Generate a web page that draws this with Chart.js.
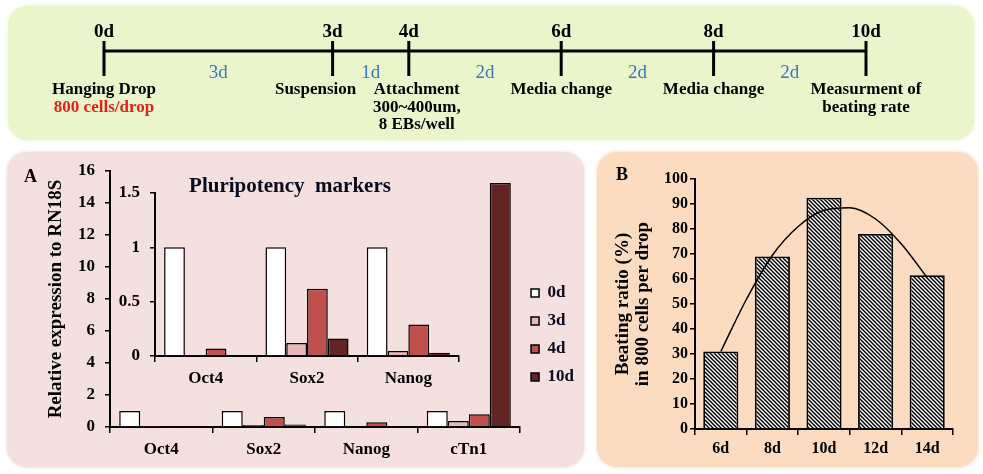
<!DOCTYPE html>
<html>
<head>
<meta charset="utf-8">
<script src="https://cdn.jsdelivr.net/npm/chart.js@4.4.0/dist/chart.umd.min.js"></script>
<style>
  html, body { margin: 0; padding: 0; background: #fff; }
  body { width: 983px; height: 474px; position: relative; overflow: hidden; font-family: "Liberation Serif", "Times New Roman", serif; }
  .box { position: absolute; border-radius: 20px; }
  #boxTop { left: 8px; top: 6px; width: 966px; height: 134px; background: #eaf5cb; box-shadow: 0 0 3px 1px #eef7d8; }
  #boxA { left: 7px; top: 152px; width: 577px; height: 315px; background: #f3e0df; box-shadow: 0 0 3px 1px #f5e7e6; }
  #boxB { left: 597px; top: 152px; width: 381px; height: 315px; background: #fbdcc1; box-shadow: 0 0 3px 1px #fce6d3; }
  canvas { position: absolute; }
  .tag { position: absolute; font-weight: bold; font-size: 18px; line-height: 18px; }
</style>
</head>
<body>
<div class="box" id="boxTop"></div>
<div class="box" id="boxA"></div>
<div class="box" id="boxB"></div>
<canvas id="timeline" width="983" height="145" style="left:0;top:0"></canvas>
<canvas id="exprChart" width="590" height="329" style="left:0;top:145px"></canvas>
<canvas id="insetChart" width="390" height="240" style="left:100px;top:160px"></canvas>
<canvas id="beatChart" width="393" height="329" style="left:590px;top:145px"></canvas>
<div class="tag" style="left:24px;top:167px">A</div>
<div class="tag" style="left:616px;top:165px">B</div>
<script>
// timeline
const timelineDays = [0, 3, 4, 6, 8, 10];
const timelineLabels = ['0d', '3d', '4d', '6d', '8d', '10d'];
const intervalLabels = ['3d', '1d', '2d', '2d', '2d'];
const eventLines = [
  ['Hanging Drop', '800 cells/drop'],
  ['Suspension'],
  ['Attachment', '300~400um,', '8 EBs/well'],
  ['Media change'],
  ['Media change'],
  ['Measurment of', 'beating rate']
];
const redLines = ['800 cells/drop'];
// small nudges so the crowded 3d / 4d captions do not collide
const eventShift = [0, -17, 8, 0, 0, 0];

// panel A
const genes = ['Oct4', 'Sox2', 'Nanog', 'cTn1'];
const expr0d = [1, 1, 1, 1];
const expr3d = [0.01, 0.12, 0.045, 0.37];
const expr4d = [0.07, 0.62, 0.29, 0.8];
const expr10d = [0.01, 0.16, 0.03, 15.25];
const insetGenes = ['Oct4', 'Sox2', 'Nanog'];
const seriesNames = ['0d', '3d', '4d', '10d'];
const seriesColors = ['#ffffff', '#e6b9b8', '#c0504d', '#632523'];

// panel B
const beatDays = ['6d', '8d', '10d', '12d', '14d'];
const beatRatio = [31, 69, 92.5, 78, 61.5];
const trendX = [0, 0.5, 1, 1.5, 2, 2.5, 3, 3.5, 4];
const trendY = [31, 52, 69.5, 81, 87.5, 88.5, 84, 74, 60.5];

const serif = '"Liberation Serif", "Times New Roman", serif';
Chart.defaults.font.family = serif;
Chart.defaults.font.weight = 'bold';
Chart.defaults.color = '#000';
Chart.defaults.animation = false;
Chart.defaults.responsive = false;
Chart.defaults.plugins.tooltip.enabled = false;

// ---------- timeline ----------
const timelineText = {
  id: 'timelineText',
  afterDatasetsDraw(chart) {
    const ctx = chart.ctx;
    const xs = chart.scales.x, ys = chart.scales.y;
    const y0 = ys.getPixelForValue(0);
    ctx.save();
    ctx.strokeStyle = '#000';
    ctx.lineWidth = 3;
    ctx.textAlign = 'center';
    ctx.textBaseline = 'middle';
    timelineDays.forEach((d, i) => {
      const x = xs.getPixelForValue(d);
      ctx.beginPath();
      ctx.moveTo(x, y0 - 10);
      ctx.lineTo(x, y0 + 25);
      ctx.stroke();
      ctx.fillStyle = '#000';
      ctx.font = 'bold 19px ' + serif;
      ctx.fillText(timelineLabels[i], x, y0 - 19);
      ctx.font = 'bold 17px ' + serif;
      eventLines[i].forEach((t, j) => {
        ctx.fillStyle = redLines.includes(t) ? '#e3201b' : '#000';
        ctx.fillText(t, x + eventShift[i], y0 + 39 + j * 17.5);
      });
      if (i < intervalLabels.length) {
        const xm = xs.getPixelForValue((d + timelineDays[i + 1]) / 2);
        ctx.font = 'normal 19px ' + serif;
        ctx.fillStyle = '#3578c0';
        ctx.fillText(intervalLabels[i], xm, y0 + 22);
      }
    });
    ctx.restore();
  }
};

new Chart(document.getElementById('timeline'), {
  type: 'scatter',
  data: {
    datasets: [{
      data: [{ x: timelineDays[0], y: 0 }, { x: timelineDays[timelineDays.length - 1], y: 0 }],
      showLine: true,
      borderColor: '#000',
      borderWidth: 3,
      pointRadius: 0
    }]
  },
  options: {
    layout: { padding: { left: 104, right: 117, top: 21, bottom: 64 } },
    plugins: { legend: { display: false } },
    scales: {
      x: { type: 'linear', min: 0, max: 10, display: false },
      y: { min: -1, max: 1, display: false }
    }
  },
  plugins: [timelineText]
});

// ---------- panel A ----------
function barSets(values) {
  return seriesNames.map((name, i) => ({
    label: name,
    data: values[i],
    backgroundColor: seriesColors[i],
    borderColor: '#000',
    borderWidth: 1.5
  }));
}

const axisGrid = { drawOnChartArea: false, color: '#000', lineWidth: 1.5 };

new Chart(document.getElementById('exprChart'), {
  type: 'bar',
  data: { labels: genes, datasets: barSets([expr0d, expr3d, expr4d, expr10d]) },
  options: {
    layout: { padding: { top: 26, right: 6, left: 0, bottom: 0 } },
    datasets: { bar: { categoryPercentage: 0.82, barPercentage: 1 } },
    plugins: {
      legend: {
        position: 'right',
        title: { display: true, text: '', padding: 0, font: { size: 20, lineHeight: 1.25 } },
        labels: { boxWidth: 8, boxHeight: 8, padding: 11, color: '#0a0a1e', font: { size: 17 } }
      }
    },
    scales: {
      x: {
        grid: Object.assign({ tickLength: 6 }, axisGrid),
        border: { color: '#000', width: 2 },
        ticks: { font: { size: 17 }, padding: 6 },
        afterFit: s => { s.height = 47; }
      },
      y: {
        min: 0, max: 16,
        grid: Object.assign({ tickLength: 5 }, axisGrid),
        border: { color: '#000', width: 2 },
        ticks: { stepSize: 2, font: { size: 17 }, padding: 10 },
        title: { display: true, text: 'Relative expression to RN18S', font: { size: 19 }, padding: { top: 44.6 } },
        afterFit: s => { s.width = 110; }
      }
    }
  }
});

new Chart(document.getElementById('insetChart'), {
  type: 'bar',
  data: {
    labels: insetGenes,
    datasets: barSets([expr0d, expr3d, expr4d, expr10d].map(a => a.slice(0, insetGenes.length)))
  },
  options: {
    layout: { padding: { top: 0, right: 31, left: 0, bottom: 0 } },
    datasets: { bar: { categoryPercentage: 0.82, barPercentage: 1 } },
    plugins: {
      legend: { display: false },
      // leading spaces push the centred title a little to the right, as in the figure
      title: { display: true, text: '    Pluripotency  markers', color: '#0a0a1e', font: { size: 21 }, padding: { top: 14.4, bottom: -6.6 } }
    },
    scales: {
      x: {
        grid: Object.assign({ tickLength: 6 }, axisGrid),
        border: { color: '#000', width: 2 },
        ticks: { font: { size: 17 }, padding: 6 },
        afterFit: s => { s.height = 44; }
      },
      y: {
        min: 0, max: 1.5,
        grid: Object.assign({ tickLength: 5 }, axisGrid),
        border: { color: '#000', width: 2 },
        ticks: { stepSize: 0.5, font: { size: 17 }, padding: 10, callback: v => String(v) },
        afterFit: s => { s.width = 55; }
      }
    }
  }
});

// ---------- panel B ----------
function hatch() {
  const c = document.createElement('canvas');
  c.width = 4; c.height = 4;
  const g = c.getContext('2d');
  g.fillStyle = '#fff';
  g.fillRect(0, 0, 4, 4);
  g.strokeStyle = '#000';
  g.lineWidth = 1.5;
  g.beginPath();
  g.moveTo(0, 0); g.lineTo(4, 4);
  g.moveTo(-1, 3); g.lineTo(1, 5);
  g.moveTo(3, -1); g.lineTo(5, 1);
  g.stroke();
  return g.createPattern(c, 'repeat');
}

new Chart(document.getElementById('beatChart'), {
  type: 'bar',
  data: {
    labels: beatDays,
    datasets: [
      {
        type: 'line',
        xAxisID: 'xl',
        order: 0,
        data: trendX.map((x, i) => ({ x: x, y: trendY[i] })),
        borderColor: '#000',
        borderWidth: 1.5,
        pointRadius: 0,
        tension: 0.4,
        cubicInterpolationMode: 'monotone'
      },
      {
        order: 1,
        data: beatRatio,
        backgroundColor: hatch(),
        borderColor: '#000',
        borderWidth: 1.8,
        grouped: false,
        categoryPercentage: 0.68,
        barPercentage: 1
      }
    ]
  },
  options: {
    layout: { padding: { top: 34, right: 30, left: 0, bottom: 0 } },
    plugins: { legend: { display: false } },
    scales: {
      x: {
        grid: Object.assign({ tickLength: 6 }, axisGrid),
        border: { color: '#000', width: 2 },
        ticks: { font: { size: 16 }, padding: 4 },
        afterFit: s => { s.height = 45; }
      },
      xl: { type: 'linear', axis: 'x', min: -0.5, max: 4.5, offset: false, grid: { offset: false }, display: false },
      y: {
        min: 0, max: 100,
        grid: Object.assign({ tickLength: 5 }, axisGrid),
        border: { color: '#000', width: 2 },
        ticks: { stepSize: 10, font: { size: 16 }, padding: 2 },
        title: {
          display: true,
          text: ['Beating ratio (%)', 'in 800 cells per drop'],
          font: { size: 19, lineHeight: '20px' },
          padding: { top: 23 }
        },
        afterFit: s => { s.width = 105; }
      }
    }
  }
});
</script>
</body>
</html>
